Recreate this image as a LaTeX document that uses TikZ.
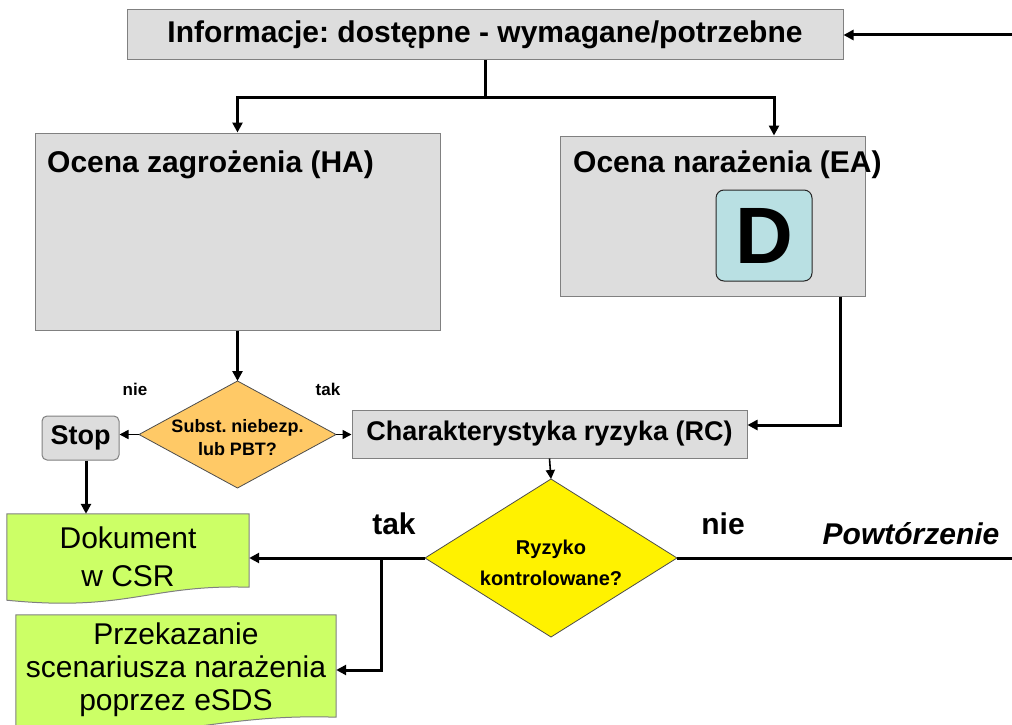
\documentclass[tikz,border=0pt]{standalone}
\usepackage{fontspec}
\setmainfont{Liberation Sans}
\frenchspacing
\usetikzlibrary{shapes.geometric,arrows.meta,calc,backgrounds}
\definecolor{boxgray}{HTML}{DDDDDD}
\definecolor{boxedge}{HTML}{808080}
\definecolor{orangefill}{HTML}{FFC966}
\definecolor{greenfill}{HTML}{CCFF66}
\definecolor{dfill}{HTML}{B9E0E3}
\begin{document}
\begin{tikzpicture}[x=1pt,y=-1pt,
  graybox/.style={draw=boxedge, fill=boxgray, line width=1pt, inner sep=0pt},
  headtxt/.style={font=\fontsize{30}{33}\selectfont\bfseries, anchor=base west, inner sep=0pt},
  lbl/.style={font=\fontsize{30}{33}\selectfont\bfseries, inner sep=0pt},
  smalllbl/.style={font=\fontsize{17}{20}\selectfont\bfseries, inner sep=0pt},
  conn/.style={line width=3pt, -{Triangle[length=10pt,width=10pt]}},
  thinconn/.style={line width=1.6pt, -{Triangle[length=9pt,width=9pt]}},
  plainline/.style={line width=3pt},
  docshape/.style={draw=boxedge, fill=greenfill, line width=1pt},
  dec/.style={diamond, draw=black!70, line width=0.8pt, inner sep=0pt, outer sep=0pt},
  dectxt/.style={inner sep=0pt, align=center}
]
\clip (0,0) rectangle (1012,725);

% nodes
\node[graybox, minimum width=716, minimum height=50, font=\fontsize{30}{33}\selectfont\bfseries] (info) at (485,35) {Informacje: dostępne - wymagane/potrzebne};
\node[graybox, minimum width=405, minimum height=197] (HA) at (237.5,231.5) {};
\node[headtxt] (HAt) at (47,172) {Ocena zagrożenia (HA)};
\node[graybox, minimum width=305, minimum height=160] (EA) at (713,216) {};
\node[headtxt] (EAt) at (573,172) {Ocena narażenia (EA)};
\node[draw=black!85, fill=dfill, line width=1pt, rounded corners=8pt, minimum width=96, minimum height=91, inner sep=0pt, font=\fontsize{80}{80}\selectfont\bfseries] (D) at (764,235.5) {D};

\node[dec, fill=orangefill, minimum width=197, minimum height=107] (d1) at (237.5,434.5) {};
\node[dectxt, font=\fontsize{18}{23}\selectfont\bfseries] (d1t) at (237.5,438) {Subst. niebezp.\\lub PBT?};
\node[graybox, rounded corners=5pt, minimum width=77, minimum height=44, font=\fontsize{27}{30}\selectfont\bfseries] (stop) at (80.5,438) {Stop};
\node[graybox, minimum width=395, minimum height=48, font=\fontsize{27}{30}\selectfont\bfseries] (RC) at (549.5,434) {Charakterystyka ryzyka (RC)};

\node[dec, fill=yellow, minimum width=252, minimum height=158] (d2) at (551,558) {};
\node[dectxt, font=\fontsize{20}{31}\selectfont\bfseries] (d2t) at (551,563) {Ryzyko\\kontrolowane?};

\node[minimum width=242, minimum height=86, inner sep=0pt, align=center, font=\fontsize{30}{38}\selectfont] (doc) at (128,557) {Dokument\\w CSR};
\node[minimum width=320, minimum height=110, inner sep=0pt, align=center, font=\fontsize{30}{33}\selectfont] (esds) at (176,670) {Przekazanie\\scenariusza narażenia\\poprzez eSDS};

\begin{scope}[on background layer]
\draw[docshape] (doc.north west) -- (doc.north east) -- ($(doc.south east)+(0,-13)$)
  .. controls ($(doc.south east)+(-100,-16)$) and ($(doc.south west)+(120,12)$) .. (doc.south west) -- cycle;
\draw[docshape] (esds.north west) -- (esds.north east) -- ($(esds.south east)+(0,-8)$)
  .. controls ($(esds.south east)+(-120,-12)$) and ($(esds.south west)+(150,18)$) .. ($(esds.south west)+(0,10)$) -- cycle;
\end{scope}

% labels
\node[smalllbl] (nie1) at (135,389) {nie};
\node[smalllbl] (tak1) at (328,389) {tak};
\node[lbl] (tak2) at (394,524) {tak};
\node[lbl] (nie2) at (723,524) {nie};
\node[lbl, font=\fontsize{30}{33}\selectfont\bfseries\itshape] (powt) at (911,534) {Powtórzenie};

% connectors
\coordinate (rin) at (1012,35);
\draw[conn] (rin) -- (info.east);
\coordinate (eain) at (774,97);
\draw[plainline] (info.south) -- (info.south |- eain);
\draw[conn] (info.south |- eain) -| (HA.north);
\draw[conn] (info.south |- eain) -- (eain) -- (eain |- EA.north);
\draw[conn] (HA.south) -- (d1.north);
\draw[thinconn] (d1.west) -- (d1.west -| stop.east);
\draw[thinconn] (d1.east) -- (d1.east -| RC.west);
\coordinate (eaout) at (840,425);
\draw[conn] (EA.south -| eaout) |- (RC.east |- eaout);
\draw[thinconn] (RC.south) -- (d2.north);
\coordinate (stopout) at (86,0);
\draw[conn] (stop.south -| stopout) -- (doc.north -| stopout);
\draw[conn] (d2.west) -- (d2.west -| doc.east);
\coordinate (br) at (381,558);
\draw[conn] (br) |- (esds.east);
\coordinate (rout) at (1012,558);
\draw[plainline] (d2.east) -- (rout);
\end{tikzpicture}
\end{document}
